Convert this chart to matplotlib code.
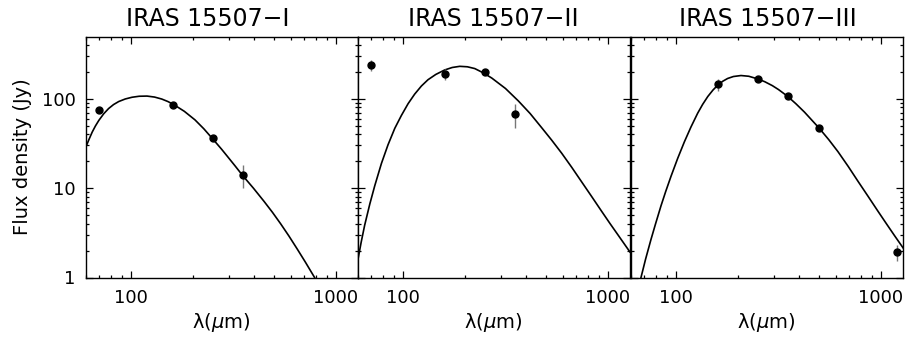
import matplotlib
matplotlib.use("Agg")
import matplotlib.pyplot as plt
from matplotlib.ticker import LogLocator, NullFormatter, FixedLocator, FixedFormatter

# ---------------- data ----------------
titles = ["IRAS 15507\u2212I", "IRAS 15507\u2212II", "IRAS 15507\u2212III"]

# observed points (wavelength um, flux Jy, error Jy)
obs1_wl = [70, 160, 250, 350]
obs1_fl = [74, 86, 36, 14.1]
obs1_er = [0, 0, 0, 4.1]

obs2_wl = [70, 160, 250, 350]
obs2_fl = [236, 189, 199, 67]
obs2_er = [33, 28, 8, 20]

obs3_wl = [160, 250, 350, 500, 1200]
obs3_fl = [145, 167, 107, 47.3, 1.92]
obs3_er = [22, 8, 5, 2, 0.4]

# model curves
fit1_wl = [60.0, 62.4, 64.7, 67.1, 69.7, 73.6, 77.8, 82.2, 87.1, 93.8, 101.2, 109.6,
           119.7, 130.3, 141.3, 151.4, 161.1, 182.0, 205.1, 226.5, 250.0, 276.1, 295.1,
           322.1, 350.8, 395.4, 445.6, 489.8, 537.0, 588.8, 647.1, 709.6, 778.0, 786]
fit1_fl = [28.2, 35.1, 42.4, 49.7, 57.3, 67.9, 77.8, 86.1, 93.1, 99.5, 104.0, 106.7,
           107.2, 104.5, 99.3, 93.1, 86.5, 72.4, 58.1, 46.2, 35.7, 27.4, 22.7,
           17.7, 13.8, 10.0, 7.11, 5.36, 3.99, 2.92, 2.08, 1.48, 1.04, 1.0]

fit2_wl = [60.0, 62.5, 65.0, 68.9, 72.8, 78.5, 84.5, 91.2, 98.2, 105.9, 114.0, 123.0,
           132.4, 144.5, 159.6, 173.8, 189.2, 206.1, 223.9, 245.5, 271.0, 316.2, 365.6,
           416.9, 475.3, 530.9, 594.3, 665.3, 744.7, 831.8, 931.1, 1023, 1125, 1279]
fit2_fl = [1.49, 2.47, 3.83, 6.65, 10.6, 18.9, 30.5, 46.7, 65.0, 88.1, 112.7, 139.0,
           163.3, 187.1, 209.9, 223.9, 230.7, 228.0, 217.8, 195.9, 170.6, 130.3, 94.4,
           68.4, 47.3, 34.5, 24.6, 17.1, 11.7, 8.07, 5.50, 4.01, 2.94, 1.93]

fit3_wl = [67.5, 71.1, 75.5, 79.4, 84.5, 89.1, 94.6, 101.9, 109.9, 118.3, 127.6, 134.9,
           142.9, 151.4, 159.6, 169.0, 178.6, 190.5, 207.5, 226.5, 250.6, 271.0, 295.1,
           316.2, 349.1, 384.6, 423.6, 497.7, 555.9, 616.6, 691.8, 772.7, 865.0, 966.1,
           1059, 1164, 1282]
fit3_fl = [1.00, 1.61, 2.66, 3.95, 6.34, 9.18, 13.6, 21.5, 33.0, 48.3, 69.0, 86.5,
           105.9, 125.0, 141.6, 157.0, 168.7, 177.4, 182.0, 178.6, 166.7, 155.2, 140.3,
           126.8, 107.2, 87.9, 70.8, 47.3, 34.9, 25.6, 17.5, 11.9, 8.09, 5.52,
           4.04, 2.94, 2.14]

x_ticks = [100, 1000]
x_ticklabels = ["100", "1000"]
y_ticks = [1, 10, 100]
y_ticklabels = ["1", "10", "100"]

panels = [
    (obs1_wl, obs1_fl, obs1_er, fit1_wl, fit1_fl),
    (obs2_wl, obs2_fl, obs2_er, fit2_wl, fit2_fl),
    (obs3_wl, obs3_fl, obs3_er, fit3_wl, fit3_fl),
]

# ---------------- figure ----------------
plt.rcParams['font.family'] = ['DejaVu Sans']
fig = plt.figure(figsize=(9.05, 3.37), dpi=100)

W, H = 905.0, 337.0
lefts = [85.5, 357.5, 630.5]
pw = 272.5
top_px, bot_px = 36.7, 277.5
title_x = [0.449, 0.5, 0.505]

for i, (owl, ofl, oer, fwl, ffl) in enumerate(panels):
    ax = fig.add_axes([lefts[i] / W, 1 - bot_px / H, pw / W, (bot_px - top_px) / H])
    ax.set_xscale('log')
    ax.set_yscale('log')
    ax.set_xlim(60, 1280)
    ax.set_ylim(1, 495)

    ax.plot(fwl, ffl, color='black', lw=1.2, solid_joinstyle='round')
    ax.errorbar(owl, ofl, yerr=oer, fmt='none', ecolor='#777777', elinewidth=1.0, capsize=0)
    ax.plot(owl, ofl, 'o', color='black', ms=5)

    ax.xaxis.set_major_locator(FixedLocator(x_ticks))
    ax.xaxis.set_major_formatter(FixedFormatter(x_ticklabels))
    ax.xaxis.set_minor_locator(LogLocator(base=10, subs=range(2, 10)))
    ax.xaxis.set_minor_formatter(NullFormatter())
    ax.yaxis.set_major_locator(FixedLocator(y_ticks))
    ax.yaxis.set_minor_locator(LogLocator(base=10, subs=range(2, 10)))
    ax.yaxis.set_minor_formatter(NullFormatter())
    if i == 0:
        ax.yaxis.set_major_formatter(FixedFormatter(y_ticklabels))
        ax.set_ylabel("Flux density (Jy)", fontsize=14, labelpad=7)
    else:
        ax.yaxis.set_major_formatter(NullFormatter())

    ax.tick_params(which='both', direction='in', top=True, right=True, labelsize=13, width=0.9)
    ax.tick_params(which='major', length=5)
    ax.tick_params(which='minor', length=2.5)
    ax.tick_params(axis='x', which='major', pad=8)
    ax.tick_params(axis='y', which='major', pad=7)
    for s in ax.spines.values():
        s.set_linewidth(1.0)

    ax.set_xlabel("\u03bb($\\mu$m)", fontsize=14, labelpad=3)
    ax.set_title(titles[i], fontsize=17, pad=8, x=title_x[i])

fig.savefig("out.png", dpi=100)
